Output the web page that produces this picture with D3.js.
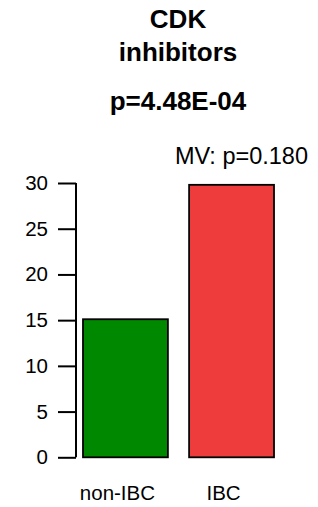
<!DOCTYPE html>
<html>
<head>
<meta charset="utf-8">
<script src="https://cdn.jsdelivr.net/npm/d3@7"></script>
<style>
  body { margin: 0; background: #fff; }
  text { font-family: "Liberation Sans", Arial, Helvetica, sans-serif; fill: #000; }
</style>
</head>
<body>
<div id="chart"></div>
<script>
var groups = ["non-IBC", "IBC"];
var values = [15.1, 29.8];
var colors = ["#008800", "#ee3c3c"];
var yTicks = [0, 5, 10, 15, 20, 25, 30];
var titleLines = ["CDK", "inhibitors"];
var pLabel = "p=4.48E-04";
var mvLabel = "MV: p=0.180";

var width = 318,
    height = 507,
    margin = { top: 183, right: 42, bottom: 50, left: 76 };

var svg = d3.select("#chart").append("svg")
    .attr("width", width)
    .attr("height", height);

var g = svg.append("g")
    .attr("transform", "translate(" + margin.left + "," + margin.top + ")");

var plotW = width - margin.left - margin.right,
    plotH = height - margin.top - margin.bottom;

var yScale = d3.scaleLinear()
    .domain([0, 30])
    .range([plotH + 0.3, 0]);

var xScale = d3.scaleBand()
    .domain(groups)
    .range([7, 198])
    .paddingInner(0.2)
    .paddingOuter(0);

// y axis, R style
var yAxis = g.append("g")
    .attr("class", "Yaxis")
    .call(d3.axisLeft(yScale).tickValues(yTicks).tickSize(18).tickPadding(10));
yAxis.select(".domain").attr("d", "M0," + yScale(0) + "V" + yScale(30))
    .attr("stroke", "#000").attr("stroke-width", 2);
yAxis.selectAll(".tick line").attr("stroke", "#000").attr("stroke-width", 2);
yAxis.selectAll(".tick text")
    .style("font-size", "20.5px")
    .attr("font-family", null);

g.selectAll(".bar")
    .data(values)
    .enter().append("rect")
    .attr("class", "bar")
    .attr("x", function(d, i){ return xScale(groups[i]) })
    .attr("y", function(d){ return yScale(d) })
    .attr("width", xScale.bandwidth())
    .attr("height", function(d){ return yScale(0) - yScale(d) })
    .attr("fill", function(d, i){ return colors[i] })
    .attr("stroke", "#000")
    .attr("stroke-width", 1.8);

g.selectAll(".glabel")
    .data(groups)
    .enter().append("text")
    .attr("class", "glabel")
    .attr("x", function(d){ return xScale(d) + xScale.bandwidth() / 2 - 8 })
    .attr("y", plotH + 43)
    .attr("text-anchor", "middle")
    .style("font-size", "20.5px")
    .text(function(d){ return d });

// titles
var cx = 178;
svg.selectAll(".title")
    .data(titleLines)
    .enter().append("text")
    .attr("class", "title")
    .attr("x", cx)
    .attr("y", function(d, i){ return 28 + i * 32.5 })
    .attr("text-anchor", "middle")
    .style("font-size", "26px")
    .style("font-weight", "bold")
    .text(function(d){ return d });

svg.append("text")
    .attr("x", cx)
    .attr("y", 110)
    .attr("text-anchor", "middle")
    .style("font-size", "26px")
    .style("font-weight", "bold")
    .text(pLabel);

svg.append("text")
    .attr("x", 308)
    .attr("y", 164)
    .attr("text-anchor", "end")
    .style("font-size", "23.5px")
    .text(mvLabel);
</script>
</body>
</html>
